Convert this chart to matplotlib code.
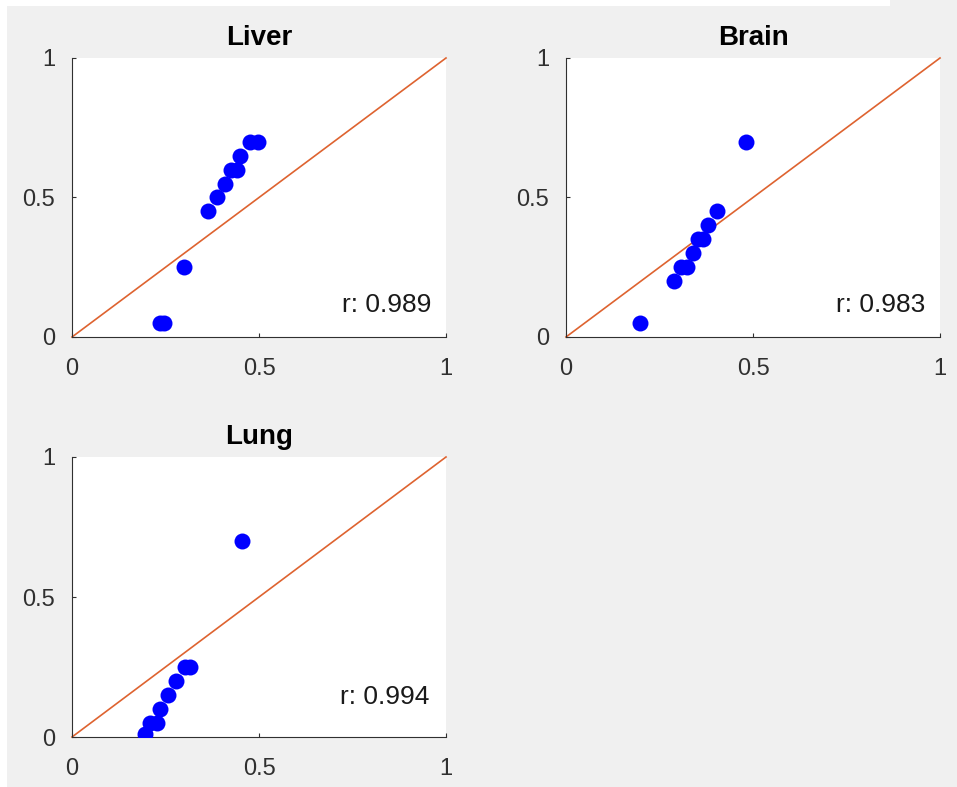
import numpy as np
import matplotlib
matplotlib.use("Agg")
import matplotlib.pyplot as plt
from matplotlib.patches import Rectangle

plt.rcParams['font.family'] = ['Liberation Sans', 'DejaVu Sans']

# panel names and correlation values
titles = ['Liver', 'Brain', 'Lung']
r_values = [0.989, 0.983, 0.994]

# scatter points
liver_x = [0.235, 0.245, 0.300, 0.364, 0.387, 0.409, 0.424, 0.440, 0.449, 0.476, 0.498]
liver_y = [0.05, 0.05, 0.25, 0.45, 0.50, 0.55, 0.60, 0.60, 0.65, 0.70, 0.70]

brain_x = [0.198, 0.290, 0.307, 0.323, 0.339, 0.354, 0.367, 0.380, 0.403, 0.481]
brain_y = [0.05, 0.20, 0.25, 0.25, 0.30, 0.35, 0.35, 0.40, 0.45, 0.70]

lung_x = [0.195, 0.209, 0.226, 0.235, 0.256, 0.278, 0.302, 0.316, 0.454]
lung_y = [0.01, 0.05, 0.05, 0.10, 0.15, 0.20, 0.25, 0.25, 0.70]

xs = [liver_x, brain_x, lung_x]
ys = [liver_y, brain_y, lung_y]

W, H = 957, 787
fig = plt.figure(figsize=(W / 100, H / 100), dpi=100, facecolor='#f0f0f0')

# white edges of the screenshot
fig.patches.append(Rectangle((0, 0), 7 / W, 1, transform=fig.transFigure,
                             facecolor='white', edgecolor='none', zorder=-1))
fig.patches.append(Rectangle((0, 1 - 6 / H), 890 / W, 6 / H, transform=fig.transFigure,
                             facecolor='white', edgecolor='none', zorder=-1))

# axes boxes in pixels: left, right, top, bottom
boxes = [(72, 446, 58, 337), (566, 940, 58, 337), (72, 446, 457, 737)]
# position of the r label in data coordinates
r_pos = [(0.96, 0.115), (0.96, 0.115), (0.955, 0.143)]

axcol = '#303030'
for i in range(3):
    l, r, t, b = boxes[i]
    ax = fig.add_axes([l / W, 1 - b / H, (r - l) / W, (b - t) / H])
    ax.set_facecolor('white')
    ax.plot([0, 1], [0, 1], color='#DE6330', lw=1.2, zorder=2, clip_on=False)
    ax.plot(xs[i], ys[i], 'o', color='#0000ff', markersize=11.5, markeredgewidth=0, zorder=3)
    ax.set_xlim(0, 1)
    ax.set_ylim(0, 1)
    ax.set_xticks([0, 0.5, 1])
    ax.set_yticks([0, 0.5, 1])
    ax.set_xticklabels(['0', '0.5', '1'])
    ax.set_yticklabels(['0', '0.5', '1'])
    ax.spines['top'].set_visible(False)
    ax.spines['right'].set_visible(False)
    ax.spines['left'].set_color(axcol)
    ax.spines['bottom'].set_color(axcol)
    ax.tick_params(direction='in', length=3, width=0.8, colors=axcol, labelsize=17)
    ax.tick_params(axis='x', pad=15)
    ax.tick_params(axis='y', pad=12)
    ax.set_title(titles[i], fontsize=20, fontweight='bold', pad=9)
    ax.text(r_pos[i][0], r_pos[i][1], 'r: %.3f' % r_values[i], fontsize=19,
            ha='right', va='center', color='#1a1a1a')

fig.savefig('out.png', dpi=100, facecolor=fig.get_facecolor())
